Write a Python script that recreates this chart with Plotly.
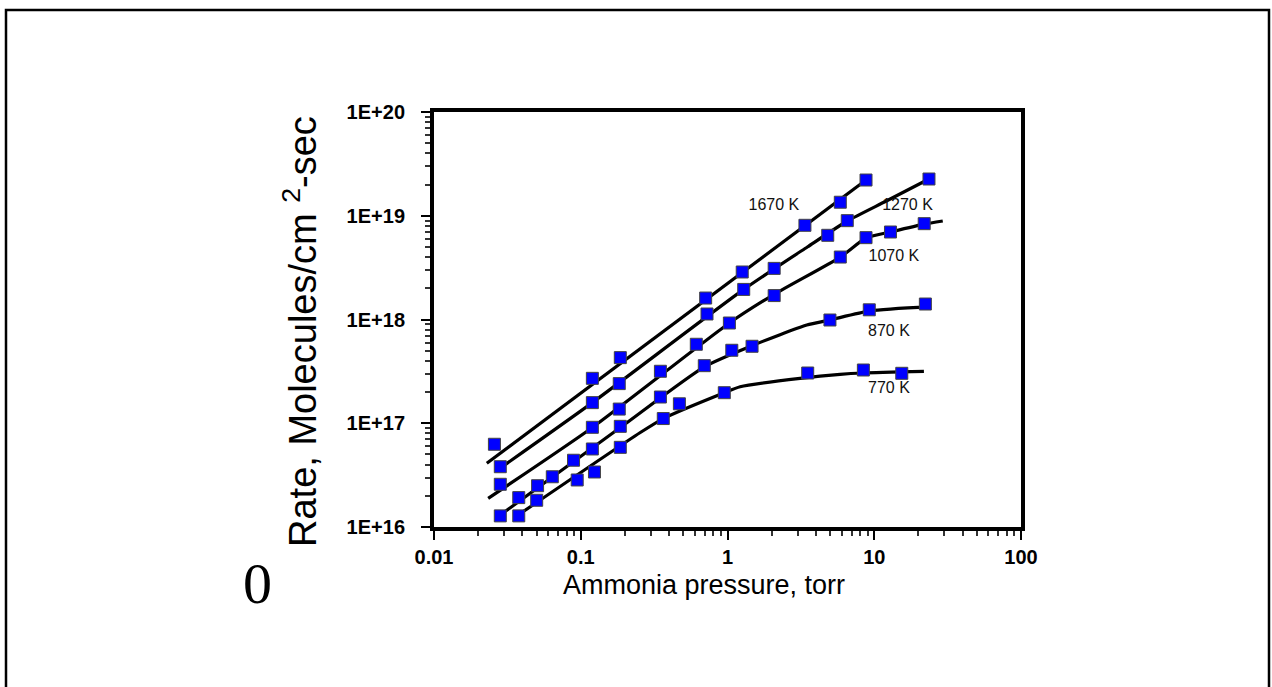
import plotly.graph_objects as go

# ---- measured data (Ammonia pressure [torr], Rate [molecules/cm^2-sec]) ----
x1670 = [0.0258, 0.120, 0.186, 0.710, 1.26, 3.37, 5.87, 8.79]
y1670 = [6.27e16, 2.71e17, 4.29e17, 1.61e18, 2.87e18, 8.09e18, 1.35e19, 2.21e19]

x1270 = [0.0283, 0.120, 0.183, 0.725, 1.29, 2.08, 4.82, 6.55, 23.6]
y1270 = [3.81e16, 1.58e17, 2.41e17, 1.13e18, 1.95e18, 3.11e18, 6.48e18, 8.97e18, 2.26e19]

x1070 = [0.0283, 0.120, 0.183, 0.349, 0.613, 1.03, 2.08, 5.87, 8.79, 12.9, 21.9]
y1070 = [2.58e16, 9.14e16, 1.37e17, 3.17e17, 5.77e17, 9.25e17, 1.70e18, 4.00e18, 6.15e18, 6.97e18, 8.39e18]

x870 = [0.0283, 0.0378, 0.0508, 0.0640, 0.0893, 0.120, 0.186, 0.349, 0.695, 1.07, 1.47, 4.99, 9.25, 22.3]
y870 = [1.28e16, 1.92e16, 2.50e16, 3.05e16, 4.40e16, 5.65e16, 9.34e16, 1.79e17, 3.59e17, 5.05e17, 5.52e17, 9.89e17, 1.24e18, 1.41e18]

x770 = [0.0378, 0.0501, 0.0946, 0.124, 0.186, 0.365, 0.470, 0.951, 3.52, 8.43, 15.4]
y770 = [1.28e16, 1.81e16, 2.84e16, 3.39e16, 5.86e16, 1.11e17, 1.54e17, 1.97e17, 3.05e17, 3.26e17, 3.03e17]

# ---- fitted curves ----
fit1670_x = [0.0229, 8.79]
fit1670_y = [4.11e16, 2.21e19]
fit1270_x = [0.0283, 0.12, 1.29, 3.5, 6.55, 12.0, 23.6]
fit1270_y = [3.7e16, 1.58e17, 1.95e18, 5.0e18, 8.9e18, 1.38e19, 2.26e19]
fit1070_x = [0.0234, 0.12, 1.03, 2.08, 5.87, 8.79, 12.9, 21.9, 29.3]
fit1070_y = [1.89e16, 9.1e16, 9.25e17, 1.75e18, 4.0e18, 6.1e18, 6.97e18, 8.3e18, 8.9e18]
fit870_x = [0.0305, 0.186, 0.695, 1.47, 3.47, 5.0, 9.35, 24.0]
fit870_y = [1.41e16, 9.1e16, 3.5e17, 5.6e17, 8.85e17, 9.9e17, 1.21e18, 1.33e18]
fit770_x = [0.0406, 0.253, 0.365, 0.951, 1.22, 3.12, 5.85, 8.43, 21.8]
fit770_y = [1.41e16, 8.1e16, 1.11e17, 1.97e17, 2.25e17, 2.71e17, 2.96e17, 3.05e17, 3.16e17]

# ---- series labels ----
label_text = ["1670 K", "1270 K", "1070 K", "870 K", "770 K"]
label_x = [2.07, 16.85, 13.6, 12.6, 12.6]
label_y = [1.24e19, 1.24e19, 4.03e18, 7.63e17, 2.14e17]

# ---- axis ticks ----
x_tickvals = [0.01, 0.1, 1, 10, 100]
x_ticktext = ["0.01", "0.1", "1", "10", "100"]
y_tickvals = [1e16, 1e17, 1e18, 1e19, 1e20]
y_ticktext = ["1E+16", "1E+17", "1E+18", "1E+19", "1E+20"]

FONT = "Liberation Sans, Arial, sans-serif"

fig = go.Figure()

fits = [(fit1670_x, fit1670_y), (fit1270_x, fit1270_y), (fit1070_x, fit1070_y),
        (fit870_x, fit870_y), (fit770_x, fit770_y)]
for fx, fy in fits:
    fig.add_trace(go.Scatter(x=fx, y=fy, mode="lines",
                             line=dict(color="black", width=3.2, shape="spline", smoothing=0.6),
                             showlegend=False, hoverinfo="skip"))

pts = [(x1670, y1670), (x1270, y1270), (x1070, y1070), (x870, y870), (x770, y770)]
for sx, sy in pts:
    fig.add_trace(go.Scatter(x=sx, y=sy, mode="markers",
                             marker=dict(symbol="square", size=12, color="#0000FF",
                                         line=dict(color="#444444", width=1)),
                             showlegend=False))

fig.add_trace(go.Scatter(x=label_x, y=label_y, mode="text", text=label_text,
                         textfont=dict(family=FONT, size=16, color="#111111"),
                         showlegend=False, hoverinfo="skip"))

# minor tick values (floats)
minor_x = [float(k) * 10.0 ** d for d in range(-2, 2) for k in range(2, 10)]
minor_y = [float(k) * 10.0 ** d for d in range(16, 20) for k in range(2, 10)]

fig.update_xaxes(type="log", range=[-2, 2], showline=True, linewidth=4, linecolor="black",
                 mirror=True, ticks="outside", ticklen=9, tickwidth=2, tickcolor="black",
                 tickmode="array", tickvals=x_tickvals, ticktext=x_ticktext,
                 tickfont=dict(family=FONT, size=20, color="black", weight="bold"),
                 showgrid=False, zeroline=False,
                 minor=dict(ticks="outside", ticklen=5, tickwidth=1.5, tickcolor="#333333",
                            tickmode="array", tickvals=minor_x, showgrid=False))
fig.update_yaxes(type="log", range=[16, 20], showline=True, linewidth=4, linecolor="black",
                 mirror=True, ticks="outside", ticklen=9, tickwidth=2, tickcolor="black",
                 tickmode="array", tickvals=y_tickvals, ticktext=y_ticktext,
                 tickfont=dict(family=FONT, size=20, color="black", weight="bold"),
                 ticklabelstandoff=12,
                 showgrid=False, zeroline=False,
                 minor=dict(ticks="outside", ticklen=5, tickwidth=1.5, tickcolor="#333333",
                            tickmode="array", tickvals=minor_y, showgrid=False))

L, R, T, B = 434, 1021, 112, 527
W, H = R - L, B - T


def px(p):
    return (p - L) / W


def py(q):
    return (B - q) / H


fig.add_annotation(x=px(300), y=py(332), xref="paper", yref="paper",
                   text="Rate, Molecules/cm <sup>2</sup>-sec", textangle=-90,
                   showarrow=False, xanchor="center", yanchor="middle",
                   font=dict(family=FONT, size=38, color="black"))
fig.add_annotation(x=px(704), y=py(585), xref="paper", yref="paper",
                   text="Ammonia pressure, torr", showarrow=False,
                   xanchor="center", yanchor="middle",
                   font=dict(family=FONT, size=27, color="black"))
fig.add_annotation(x=px(257), y=py(583), xref="paper", yref="paper",
                   text="0", showarrow=False, xanchor="center", yanchor="middle",
                   font=dict(family="Liberation Serif, Times New Roman, serif", size=58, color="black"))

# outer frame
fig.add_shape(type="rect", xref="paper", yref="paper",
              x0=px(6), x1=px(1269), y0=py(720), y1=py(10),
              line=dict(color="black", width=2.5), fillcolor="rgba(0,0,0,0)", layer="below")

fig.update_layout(width=1272, height=687,
                  margin=dict(l=L, r=1272 - R, t=T, b=687 - B, pad=0),
                  paper_bgcolor="white", plot_bgcolor="white", showlegend=False)

fig.write_html("out.html", config={"displayModeBar": False},
               post_script="document.body.style.margin='0';document.body.style.overflow='hidden';")
